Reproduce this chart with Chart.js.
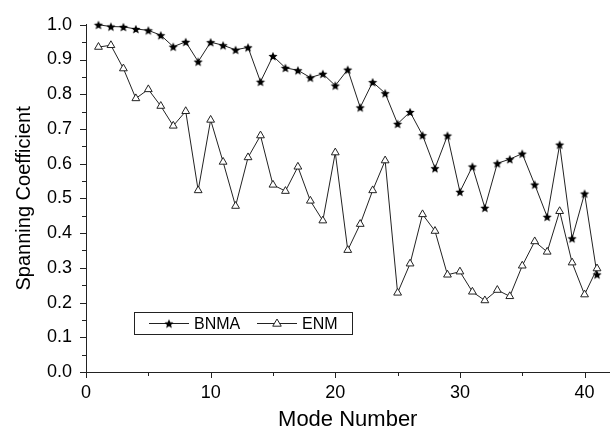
<!DOCTYPE html>
<html>
<head>
<meta charset="utf-8">
<script src="https://cdn.jsdelivr.net/npm/chart.js@4.4.1/dist/chart.umd.min.js"></script>
<style>
  html, body { margin: 0; padding: 0; background: #fff; }
  #wrap { width: 615px; height: 431px; }
</style>
</head>
<body>
<div id="wrap"><canvas id="chart" width="615" height="431"></canvas></div>
<script>
// mode numbers 1..41
const modes = [1,2,3,4,5,6,7,8,9,10,11,12,13,14,15,16,17,18,19,20,21,22,23,24,25,26,27,28,29,30,31,32,33,34,35,36,37,38,39,40,41];

const bnma = [1.000,0.995,0.994,0.988,0.984,0.970,0.937,0.951,0.894,0.950,
              0.941,0.928,0.935,0.836,0.910,0.876,0.869,0.848,0.859,0.825,
              0.871,0.762,0.835,0.803,0.715,0.749,0.682,0.587,0.681,0.519,
              0.592,0.473,0.601,0.613,0.629,0.540,0.447,0.655,0.385,0.514,0.281];

const enm = [0.936,0.941,0.874,0.788,0.814,0.766,0.709,0.751,0.523,0.726,
             0.605,0.478,0.618,0.681,0.539,0.521,0.591,0.493,0.436,0.632,
             0.351,0.426,0.523,0.609,0.228,0.312,0.454,0.406,0.280,0.289,
             0.231,0.206,0.236,0.218,0.306,0.376,0.346,0.463,0.315,0.223,0.298];

const xTicks = [0,10,20,30,40];
const xMinor = [5,15,25,35];
const yTicks = [0,0.1,0.2,0.3,0.4,0.5,0.6,0.7,0.8,0.9,1.0];
const yMinor = [0.05,0.15,0.25,0.35,0.45,0.55,0.65,0.75,0.85,0.95];

const FONT = 'Liberation Sans, Arial, sans-serif';
const INK = '#222';

function makeStar(r) {
    const c = document.createElement('canvas');
    const s = Math.ceil(r * 2) + 2;
    c.width = s; c.height = s;
    const g = c.getContext('2d');
    g.translate(s / 2, s / 2 + 0.5);
    g.beginPath();
    for (let i = 0; i < 10; i++) {
        const rad = i % 2 ? r * 0.45 : r;
        const a = -Math.PI / 2 + i * Math.PI / 5;
        g.lineTo(rad * Math.cos(a), rad * Math.sin(a));
    }
    g.closePath();
    g.fillStyle = '#000';
    g.fill();
    return c;
}
const starImg = makeStar(4.8);

function drawTriangle(ctx, x, y, r) {
    ctx.beginPath();
    ctx.moveTo(x, y - r);
    ctx.lineTo(x + r * 0.95, y + r * 0.6);
    ctx.lineTo(x - r * 0.95, y + r * 0.6);
    ctx.closePath();
    ctx.fillStyle = '#fff';
    ctx.fill();
    ctx.strokeStyle = INK;
    ctx.lineWidth = 1;
    ctx.stroke();
}

// ticks (major + minor) and the boxed legend
const decorPlugin = {
    id: 'decor',
    afterDraw(chart) {
        const ctx = chart.ctx;
        const xs = chart.scales.x, ys = chart.scales.y;
        const area = chart.chartArea;
        ctx.save();
        ctx.strokeStyle = INK;
        ctx.lineWidth = 1;
        ctx.beginPath();
        xTicks.forEach(v => { const p = Math.round(xs.getPixelForValue(v)) + 0.5; ctx.moveTo(p, area.bottom); ctx.lineTo(p, area.bottom + 6); });
        xMinor.forEach(v => { const p = Math.round(xs.getPixelForValue(v)) + 0.5; ctx.moveTo(p, area.bottom); ctx.lineTo(p, area.bottom + 4); });
        yTicks.forEach(v => { const p = Math.round(ys.getPixelForValue(v)) + 0.5; ctx.moveTo(area.left, p); ctx.lineTo(area.left - 6, p); });
        yMinor.forEach(v => { const p = Math.round(ys.getPixelForValue(v)) + 0.5; ctx.moveTo(area.left, p); ctx.lineTo(area.left - 4, p); });
        ctx.stroke();

        // legend box
        const lx = 134, ly = 312, lw = 218, lh = 22;
        ctx.fillStyle = '#fff';
        ctx.fillRect(lx, ly, lw, lh);
        ctx.strokeRect(lx + 0.5, ly + 0.5, lw, lh);
        const cy = ly + lh / 2 + 0.5;
        ctx.beginPath();
        ctx.moveTo(149, cy); ctx.lineTo(189, cy);
        ctx.moveTo(257, cy); ctx.lineTo(297, cy);
        ctx.stroke();
        ctx.drawImage(starImg, 169 - starImg.width / 2, cy - starImg.height / 2);
        drawTriangle(ctx, 277, cy, 4.5);
        ctx.fillStyle = '#000';
        ctx.font = '16px ' + FONT;
        ctx.textBaseline = 'middle';
        ctx.textAlign = 'left';
        ctx.fillText('BNMA', 194, cy + 1);
        ctx.fillText('ENM', 302, cy + 1);
        ctx.restore();
    }
};

new Chart(document.getElementById('chart'), {
    type: 'line',
    data: {
        datasets: [{
            label: 'ENM',
            data: modes.map((m, i) => ({ x: m, y: enm[i] })),
            borderColor: INK,
            borderWidth: 1,
            pointStyle: 'triangle',
            pointRadius: 4.5,
            pointBackgroundColor: '#fff',
            pointBorderColor: INK,
            pointBorderWidth: 1,
            tension: 0,
            clip: false
        }, {
            label: 'BNMA',
            data: modes.map((m, i) => ({ x: m, y: bnma[i] })),
            borderColor: INK,
            borderWidth: 1,
            pointStyle: starImg,
            tension: 0,
            clip: false
        }]
    },
    options: {
        responsive: false,
        animation: false,
        devicePixelRatio: 1,
        layout: { padding: { top: 22, right: 0, left: 0, bottom: 0 } },
        plugins: { legend: { display: false }, tooltip: { enabled: false } },
        scales: {
            x: {
                type: 'linear',
                min: 0,
                max: 42,
                afterBuildTicks: s => { s.ticks = xTicks.map(v => ({ value: v })); },
                afterFit: s => { s.height = 59; },
                grid: { display: false, drawTicks: false },
                border: { display: true, color: INK, width: 1 },
                ticks: { color: '#000', font: { family: FONT, size: 18 }, padding: 10, maxRotation: 0 },
                title: { display: true, text: 'Mode Number', color: '#000', font: { family: FONT, size: 22, lineHeight: 1 }, padding: 0 }
            },
            y: {
                min: 0,
                max: 1.0,
                afterBuildTicks: s => { s.ticks = yTicks.map(v => ({ value: v })); },
                afterFit: s => { s.width = 86; },
                grid: { display: false, drawTicks: false },
                border: { display: true, color: INK, width: 1 },
                ticks: { color: '#000', font: { family: FONT, size: 18 }, padding: 14, callback: v => v.toFixed(1) },
                title: { display: true, text: 'Spanning Coefficient', color: '#000', font: { family: FONT, size: 20 }, padding: 12 }
            }
        }
    },
    plugins: [decorPlugin]
});
</script>
</body>
</html>
